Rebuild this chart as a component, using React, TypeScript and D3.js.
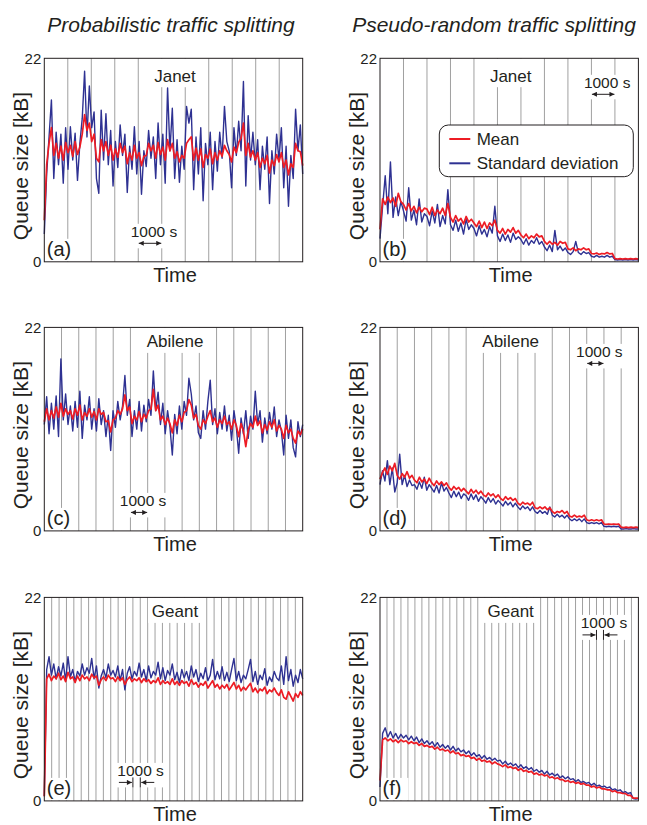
import React from 'react';
import * as d3 from 'd3';

// column headings, network names, panel letters, legend entries
const columnTitles = ['Probabilistic traffic splitting', 'Pseudo-random traffic splitting'];
const networkNames = ['Janet', 'Abilene', 'Geant'];
const panelLetters = ['(a)', '(b)', '(c)', '(d)', '(e)', '(f)'];
const seriesNames = ['Mean', 'Standard deviation'];
const yTicks = [0, 22];
const yMax = 22;
const markerText = '1000 s';
// number of 1000 s slots drawn as vertical lines in each panel, and the slot carrying the marker
const timeSlots = [11, 11, 15, 15, 35, 37];
const markerSlot = [4, 9, 5, 12, 12, 31];

// (a) Janet, probabilistic
const janetProbMean = [
  4.5, 10.5, 12.8, 14.5, 11.5, 12.8, 11.2, 12.5, 11.0, 12.9,
  11.8, 12.6, 11.4, 13.0, 11.6, 12.4, 13.8, 15.9, 14.2, 15.0,
  13.0, 13.8, 11.2, 10.8, 13.2, 12.0, 13.0, 11.5, 12.6, 11.0,
  12.2, 11.3, 12.8, 11.8, 12.5, 10.6, 11.8, 11.0, 12.6, 11.2,
  11.8, 10.4, 11.4, 11.5, 12.8, 12.0, 12.6, 11.2, 12.9, 11.6,
  12.4, 11.0, 13.2, 12.0, 12.8, 11.2, 11.9, 10.8, 11.5, 11.2,
  12.8, 13.2, 13.5, 11.0, 12.3, 11.0, 12.2, 10.2, 11.6, 11.2,
  12.2, 10.6, 11.8, 11.0, 12.0, 11.4, 12.6, 12.0, 11.6, 10.8,
  12.4, 11.8, 12.9, 13.4, 15.0, 11.5, 12.8, 11.3, 12.0, 11.0,
  11.8, 10.2, 11.2, 10.6, 11.5, 9.6, 11.0, 10.4, 11.6, 10.8,
  11.8, 10.2, 11.0, 9.4, 10.6, 10.2, 12.8, 12.0, 11.9, 10.4,
];
const janetProbStd = [
  3.0, 9.5, 13.5, 17.5, 9.0, 14.0, 10.5, 13.8, 8.5, 14.5,
  10.0, 14.6, 11.0, 13.9, 8.8, 12.8, 15.5, 20.6, 13.5, 19.0,
  14.5, 16.2, 9.0, 7.4, 16.4, 11.0, 16.0, 10.5, 14.2, 8.2,
  13.0, 10.2, 14.8, 11.5, 13.8, 7.5, 12.5, 10.0, 14.6, 9.5,
  13.0, 7.3, 12.0, 10.3, 14.2, 11.2, 13.5, 9.0, 15.0, 10.5,
  13.8, 8.5, 18.8, 12.0, 16.6, 9.0, 13.2, 8.6, 12.5, 10.0,
  16.8, 15.0, 16.5, 7.8, 13.5, 9.5, 14.5, 6.6, 12.8, 10.5,
  14.0, 7.8, 13.0, 9.8, 14.0, 11.2, 16.8, 13.0, 12.0, 8.0,
  14.5, 11.5, 15.2, 12.0, 19.5, 8.2, 15.8, 11.0, 14.0, 10.5,
  13.2, 7.8, 12.5, 10.0, 13.5, 6.3, 12.0, 9.5, 13.8, 11.0,
  14.5, 8.0, 12.5, 6.0, 11.5, 9.0, 16.5, 12.0, 14.8, 9.5,
];

// (b) Janet, pseudo-random
const janetPseudoMean = [
  3.5, 6.8, 6.2, 7.0, 6.4, 6.9, 6.0, 7.4, 6.5,
  6.2, 5.6, 6.3, 5.5, 6.0, 5.3, 5.9, 5.4, 5.8,
  5.7, 5.1, 5.9, 5.0, 5.6, 5.2, 5.8, 5.0, 6.3,
  4.8, 4.3, 5.0, 4.4, 4.7, 4.1, 4.9, 4.3, 4.6,
  4.2, 3.8, 4.4, 3.7, 4.3, 3.6, 4.2, 3.9, 4.5,
  3.4, 3.1, 3.6, 3.0, 3.5, 3.2, 3.7, 3.1, 3.4,
  2.9, 2.6, 3.0, 2.5, 2.8, 2.6, 3.0, 2.7, 2.8,
  2.2, 1.9, 2.2, 1.9, 2.1, 1.8, 2.2, 2.0, 2.1,
  1.4, 1.3, 1.5, 1.2, 1.4, 1.3, 1.5, 1.3, 1.4,
  0.9, 0.85, 0.95, 0.8, 0.9, 0.85, 1.0, 0.85, 0.9,
  0.35, 0.3, 0.35, 0.3, 0.35, 0.3, 0.35, 0.3, 0.35, 0.3,
];
const janetPseudoStd = [
  2.5, 6.0, 9.3, 5.2, 10.8, 4.8, 7.0, 5.0, 6.5,
  5.5, 4.4, 8.0, 4.5, 5.6, 4.0, 6.8, 4.3, 5.2,
  4.9, 3.9, 5.5, 4.2, 6.2, 3.8, 5.0, 4.1, 7.8,
  4.0, 3.4, 4.5, 3.3, 4.2, 3.0, 4.6, 3.5, 4.0,
  3.6, 2.8, 3.9, 3.0, 3.5, 2.7, 3.8, 3.1, 6.0,
  2.8, 2.2, 3.0, 2.3, 2.9, 2.1, 3.1, 2.4, 2.7,
  2.4, 1.9, 2.5, 1.8, 2.3, 2.0, 2.6, 1.9, 2.2,
  1.6, 1.2, 1.8, 1.1, 3.4, 1.3, 1.7, 1.2, 1.5,
  1.0, 0.8, 1.1, 2.2, 1.0, 0.8, 1.1, 0.9, 1.0,
  0.6, 0.5, 0.7, 0.5, 0.6, 0.5, 0.7, 0.5, 0.6,
  0.25, 0.2, 0.25, 0.2, 0.25, 0.2, 0.25, 0.2, 0.25, 0.2,
];

// (c) Abilene, probabilistic
const abileneProbMean = [
  11.8, 13.2, 12.0, 13.0, 12.2, 13.4, 12.3, 13.8, 12.4, 13.2,
  12.6, 13.0, 12.1, 13.2, 12.5, 13.6, 12.0, 12.8, 12.4, 13.2,
  12.3, 12.9, 12.0, 13.2, 12.6, 12.8, 11.8, 11.9, 10.7, 12.0,
  12.2, 13.0, 12.6, 13.2, 14.7, 13.0, 13.4, 11.6, 12.4, 12.0,
  12.9, 11.8, 12.6, 12.2, 13.0, 13.2, 15.3, 13.0, 13.6, 12.0,
  12.4, 11.5, 12.2, 11.6, 10.6, 12.0, 11.4, 12.5, 11.8, 12.8,
  13.0, 14.2, 13.6, 12.2, 12.6, 11.4, 11.0, 12.0, 11.6, 12.4,
  13.0, 11.8, 12.2, 11.2, 12.0, 11.6, 12.4, 11.5, 11.8, 11.0,
  12.0, 11.4, 10.2, 11.6, 10.8, 9.1, 10.9, 11.6, 11.2, 12.4,
  11.4, 11.9, 10.6, 11.5, 10.9, 11.8, 11.2, 12.0, 10.8, 11.4,
  11.0, 10.0, 11.4, 10.6, 11.0, 10.0, 9.5, 10.8, 10.4, 11.0,
];
const abileneProbStd = [
  11.5, 14.5, 10.5, 13.8, 11.0, 14.6, 10.2, 18.6, 12.0, 14.8,
  11.5, 13.5, 10.8, 14.0, 11.2, 15.1, 10.0, 13.6, 12.0, 14.5,
  11.0, 13.2, 10.8, 14.3, 11.5, 13.0, 10.2, 12.5, 8.7, 13.0,
  11.2, 14.0, 12.0, 13.5, 16.8, 12.5, 14.2, 10.2, 13.0, 11.0,
  14.0, 10.8, 13.6, 11.8, 14.2, 12.5, 17.3, 13.0, 15.0, 11.5,
  13.8, 10.5, 13.0, 11.2, 8.2, 12.6, 10.5, 13.5, 11.0, 14.0,
  12.5, 16.5, 14.8, 12.0, 13.5, 10.6, 10.0, 13.0, 11.0, 14.0,
  16.3, 11.5, 13.2, 10.5, 12.8, 11.0, 13.5, 10.8, 12.5, 9.8,
  13.0, 11.2, 8.4, 12.2, 10.5, 13.0, 10.0, 12.4, 11.0, 15.1,
  11.5, 13.0, 9.6, 12.2, 10.5, 12.8, 11.0, 13.4, 10.2, 12.0,
  10.8, 8.2, 12.5, 10.0, 12.0, 9.0, 8.0, 11.8, 10.2, 11.5,
];

// (d) Abilene, pseudo-random
const abilenePseudoMean = [
  5.6, 6.3, 6.8, 6.1, 7.0, 6.5, 7.3,
  6.0, 5.6, 6.2, 5.8, 6.4, 5.7, 6.0,
  5.5, 5.2, 5.8, 5.3, 5.6, 5.1, 5.7,
  5.2, 4.9, 5.4, 5.0, 5.3, 4.9, 5.2,
  4.7, 4.4, 4.8, 4.5, 4.7, 4.3, 4.6,
  4.3, 4.0, 4.5, 4.1, 4.4, 4.0, 4.3,
  3.9, 3.7, 4.1, 3.8, 4.0, 3.6, 3.9,
  3.5, 3.3, 3.7, 3.4, 3.6, 3.3, 3.5,
  3.0, 2.8, 3.1, 2.9, 3.0, 2.8, 3.1,
  2.5, 2.4, 2.6, 2.4, 2.6, 2.3, 2.5,
  2.1, 1.9, 2.1, 2.0, 2.2, 1.9, 2.1,
  1.6, 1.5, 1.7, 1.5, 1.6, 1.5, 1.7,
  1.2, 1.1, 1.2, 1.1, 1.2, 1.1, 1.2,
  0.75, 0.7, 0.75, 0.7, 0.75, 0.7, 0.75,
  0.4, 0.35, 0.4, 0.35, 0.4, 0.35, 0.4, 0.35,
];
const abilenePseudoStd = [
  5.0, 6.5, 5.4, 7.6, 5.0, 6.8, 4.2,
  5.2, 8.3, 5.0, 6.0, 4.8, 5.5, 4.9,
  5.0, 4.5, 5.3, 4.6, 5.8, 4.4, 5.0,
  4.6, 4.2, 4.9, 4.1, 5.2, 4.3, 4.7,
  4.1, 3.6, 4.3, 3.7, 4.2, 3.5, 4.0,
  3.8, 3.3, 4.0, 3.4, 3.9, 3.2, 3.7,
  3.4, 3.0, 3.6, 3.1, 3.5, 2.9, 3.3,
  3.0, 2.7, 3.2, 2.8, 3.1, 2.6, 3.0,
  2.6, 2.3, 2.7, 2.4, 2.6, 2.2, 2.6,
  2.1, 1.9, 2.2, 1.9, 2.1, 1.8, 2.6,
  1.7, 1.5, 1.8, 1.5, 1.7, 1.4, 1.7,
  1.3, 1.1, 1.3, 1.1, 1.3, 1.0, 1.3,
  0.9, 0.8, 0.9, 0.8, 0.9, 0.75, 0.9,
  0.5, 0.45, 0.5, 0.45, 0.5, 0.45, 0.5,
  0.2, 0.2, 0.25, 0.2, 0.2, 0.25, 0.2, 0.2,
];

// (e) Geant, probabilistic
const geantProbMean = [
  0.5, 13.2, 13.7, 13.0, 13.5, 13.2, 13.8, 13.1, 13.5, 12.9,
  13.9, 13.2, 13.4, 12.8, 13.5, 13.0, 13.6, 13.2, 13.4, 13.0,
  13.7, 13.3, 13.5, 12.5, 13.1, 13.4, 13.0, 13.6, 13.2, 13.3,
  12.9, 13.4, 13.0, 13.3, 12.6, 13.1, 13.4, 12.9, 13.2, 13.0,
  13.3, 12.8, 13.2, 12.9, 13.1, 12.7, 13.0, 12.8, 13.3, 12.6,
  13.0, 12.7, 12.9, 12.6, 13.2, 12.6, 12.9, 12.5, 13.0, 12.7,
  12.9, 12.4, 13.1, 12.6, 12.8, 12.3, 12.7, 12.5, 12.9, 12.2,
  12.6, 13.0, 12.3, 12.6, 12.1, 12.5, 12.2, 12.6, 12.0, 12.4,
  12.8, 12.1, 12.5, 11.9, 12.3, 12.0, 12.4, 12.7, 11.8, 12.2,
  11.7, 12.1, 11.9, 12.3, 11.6, 12.0, 11.8, 12.2, 11.7, 11.4,
  12.0, 11.2, 11.0, 11.8, 11.3, 10.8, 11.6, 11.2, 11.8, 11.4,
];
const geantProbStd = [
  0.5, 14.2, 15.6, 13.6, 14.8, 13.2, 14.5, 13.5, 14.9, 13.0,
  15.6, 13.4, 14.2, 12.9, 14.0, 13.5, 14.8, 13.6, 14.4, 13.8,
  15.4, 13.2, 14.6, 12.2, 13.5, 14.2, 13.3, 14.8, 13.6, 14.1,
  13.4, 14.6, 13.0, 14.2, 12.0, 13.8, 14.5, 13.2, 14.0, 13.5,
  14.9, 13.4, 14.2, 13.0, 14.6, 13.3, 14.0, 13.6, 15.0, 13.2,
  14.4, 13.0, 14.1, 13.6, 14.8, 13.1, 13.9, 12.8, 14.2, 13.3,
  14.0, 13.0, 14.6, 13.4, 14.2, 12.9, 13.8, 13.2, 14.4, 13.0,
  13.6, 15.3, 13.1, 14.0, 13.2, 14.5, 13.0, 13.9, 12.9, 14.2,
  15.4, 13.0, 14.0, 12.8, 13.6, 13.2, 14.2, 15.3, 12.9, 14.0,
  12.6, 13.6, 13.1, 14.3, 12.5, 13.4, 12.9, 14.0, 13.3, 13.0,
  14.6, 12.6, 15.6, 13.0, 14.2, 12.4, 13.6, 12.8, 14.2, 13.2,
];

// (f) Geant, pseudo-random
const geantPseudoMean = [
  2.2, 6.6, 6.8, 6.5, 6.7, 6.4, 6.6, 6.3, 6.6, 6.4,
  6.5, 6.2, 6.4, 6.2, 6.3, 6.0, 6.2, 5.9, 6.0, 5.8,
  5.9, 5.6, 5.8, 5.5, 5.6, 5.4, 5.5, 5.2, 5.4, 5.1,
  5.2, 4.9, 5.0, 4.8, 4.9, 4.6, 4.7, 4.4, 4.6, 4.3,
  4.4, 4.2, 4.3, 4.0, 4.2, 4.0, 3.9, 3.7, 3.9, 3.6,
  3.7, 3.5, 3.6, 3.3, 3.5, 3.2, 3.3, 3.1, 3.2, 2.9,
  3.0, 2.8, 2.9, 2.7, 2.8, 2.5, 2.6, 2.4, 2.5, 2.3,
  2.3, 2.1, 2.2, 2.0, 2.1, 1.9, 2.0, 1.8, 1.9, 1.7,
  1.7, 1.5, 1.6, 1.4, 1.5, 1.3, 1.3, 1.2, 1.2, 1.0,
  1.1, 0.9, 0.9, 0.8, 0.8, 0.6, 0.6, 0.3, 0.3, 0.3,
];
const geantPseudoStd = [
  1.5, 7.3, 7.9, 6.9, 7.5, 6.8, 7.3, 6.7, 7.2, 6.8,
  7.1, 6.6, 7.0, 6.5, 6.9, 6.3, 6.7, 6.2, 6.5, 6.1,
  6.4, 5.9, 6.3, 5.8, 6.1, 5.7, 6.0, 5.5, 5.9, 5.4,
  5.7, 5.3, 5.5, 5.1, 5.4, 4.9, 5.2, 4.8, 5.0, 4.6,
  4.9, 4.5, 4.7, 4.4, 4.6, 4.3, 4.4, 4.0, 4.3, 3.9,
  4.1, 3.8, 4.0, 3.6, 3.9, 3.5, 3.7, 3.4, 3.6, 3.2,
  3.4, 3.1, 3.3, 2.9, 3.2, 2.8, 3.0, 2.7, 2.9, 2.5,
  2.7, 2.4, 2.6, 2.3, 2.4, 2.1, 2.3, 2.0, 2.1, 1.9,
  2.0, 1.7, 1.9, 1.6, 1.7, 1.5, 1.6, 1.4, 1.5, 1.2,
  1.3, 1.1, 1.2, 0.9, 1.0, 0.8, 0.9, 0.25, 0.2, 0.25,
];

const FONT = '"Liberation Sans", Arial, Helvetica, sans-serif';
const RED = '#ed1c24';
const BLUE = '#2e3192';
const GRID = '#a0a0a0';
const INK = '#231f20';

const PLOT_W = 258.4;
const PLOT_H = 203.5;
const COL_X = [44.3, 380];
const ROW_Y = [58.3, 327.4, 597.4];

const panels = [
  {col: 0, row: 0, mean: janetProbMean, std: janetProbStd},
  {col: 1, row: 0, mean: janetPseudoMean, std: janetPseudoStd},
  {col: 0, row: 1, mean: abileneProbMean, std: abileneProbStd},
  {col: 1, row: 1, mean: abilenePseudoMean, std: abilenePseudoStd},
  {col: 0, row: 2, mean: geantProbMean, std: geantProbStd},
  {col: 1, row: 2, mean: geantPseudoMean, std: geantPseudoStd},
];

function Panel({idx}: {idx: number}) {
  const p = panels[idx];
  const left = COL_X[p.col];
  const top = ROW_Y[p.row];
  const bottom = top + PLOT_H;
  const right = left + PLOT_W;

  const y = d3.scaleLinear().domain([0, yMax]).range([bottom, top]);
  const grid = d3.scaleLinear().domain([0, timeSlots[idx]]).range([left, right]);
  const path = (vals: number[]) => {
    const x = d3.scaleLinear().domain([0, vals.length - 1]).range([left, right]);
    return d3.line<number>().x((d, i) => x(i)).y(d => y(d))(vals) || '';
  };

  // 1000 s marker: pseudo-random panels have it at the top, probabilistic at the bottom
  const onTop = p.col === 1;
  const inward = p.row === 2;
  const m = markerSlot[idx];
  const x0 = grid(m);
  const x1 = grid(m + 1);
  const mx = (x0 + x1) / 2 + 4;
  const textY = onTop ? top + 29.5 + (inward ? 1 : 0) : bottom - 25;
  const arrowY = onTop ? top + 36 + (inward ? 1.5 : 0) : bottom - 18.5;
  const boxL = Math.min(mx - 25, inward ? x0 - 16 : x0) - 2;
  const boxR = Math.max(mx + 25, inward ? x1 + 16 : x1) + 2;

  const name = networkNames[p.row];
  const nameX = left + PLOT_W / 2 + 1.5;
  const nameY = top + (p.row === 0 ? 23.4 : 20);
  const nameW = name.length * 9.6;

  return (
    <g>
      {/* vertical 1000 s lines */}
      {d3.range(1, timeSlots[idx]).map(k => (
        <line key={k} x1={grid(k)} x2={grid(k)} y1={top} y2={bottom} stroke={GRID} strokeWidth={1}/>
      ))}

      {/* white boxes behind labels */}
      <rect x={nameX - nameW / 2 - 3} y={top + 0.5} width={nameW + 6} height={nameY - top + 5} fill="#fff"/>
      <rect x={boxL} y={textY - 13} width={boxR - boxL} height={arrowY - textY + 18} fill="#fff"/>
      <rect x={left + 0.5} y={bottom - 23} width={28} height={22.5} fill="#fff"/>

      <path d={path(p.std)} fill="none" stroke={BLUE} strokeWidth={1.4} strokeLinejoin="round"/>
      <path d={path(p.mean)} fill="none" stroke={RED} strokeWidth={1.7} strokeLinejoin="round"/>

      <rect x={left} y={top} width={PLOT_W} height={PLOT_H} fill="none" stroke={INK} strokeWidth={1}/>

      {yTicks.map(t => (
        <text key={t} x={left - 3} y={y(t)} dy="0.36em" textAnchor="end" fontSize={15}>{t}</text>
      ))}
      <text transform={`translate(${left - 16},${top + PLOT_H / 2 + 6}) rotate(-90)`} textAnchor="middle" fontSize={21}>
        Queue size [kB]
      </text>
      <text x={left + PLOT_W / 2 + 1.5} y={bottom + 20.5} textAnchor="middle" fontSize={20}>Time</text>
      <text x={nameX} y={nameY} textAnchor="middle" fontSize={17}>{name}</text>
      <text x={left + 2.5} y={bottom - 5.5} fontSize={20}>{panelLetters[idx]}</text>

      <text x={mx} y={textY} textAnchor="middle" fontSize={15.5}>{markerText}</text>
      {inward ? (
        <g stroke={INK} strokeWidth={1}>
          <line x1={x0 - 14} x2={x0 - 1} y1={arrowY} y2={arrowY} markerEnd="url(#ah)"/>
          <line x1={x1 + 14} x2={x1 + 1} y1={arrowY} y2={arrowY} markerEnd="url(#ah)"/>
          <line x1={x0} x2={x0} y1={arrowY - 5} y2={arrowY + 5}/>
          <line x1={x1} x2={x1} y1={arrowY - 5} y2={arrowY + 5}/>
        </g>
      ) : (
        <line x1={x0 + 0.5} x2={x1 - 0.5} y1={arrowY} y2={arrowY} stroke={INK} strokeWidth={1}
              markerStart="url(#ah)" markerEnd="url(#ah)"/>
      )}
    </g>
  );
}

function Legend() {
  const lx = 439.3;
  const ly = 125;
  const colors = [RED, BLUE];
  return (
    <g>
      <rect x={lx} y={ly} width={194} height={51.7} rx={9} fill="#fff" stroke={INK} strokeWidth={1}/>
      {seriesNames.map((s, i) => (
        <g key={s}>
          <line x1={lx + 10} x2={lx + 31} y1={ly + 14 + i * 24.3} y2={ly + 14 + i * 24.3}
                stroke={colors[i]} strokeWidth={2}/>
          <text x={lx + 37.4} y={ly + 20 + i * 24.3} fontSize={17}>{s}</text>
        </g>
      ))}
    </g>
  );
}

export default function App() {
  return (
    <svg width={647} height={825} style={{position: 'absolute', left: 0, top: 0, background: '#fff'}}
         fontFamily={FONT} fill={INK}>
      <defs>
        <marker id="ah" viewBox="0 0 10 10" refX={10} refY={5} markerWidth={6} markerHeight={5}
                markerUnits="userSpaceOnUse" orient="auto-start-reverse">
          <path d="M0,0L10,5L0,10z" fill={INK}/>
        </marker>
      </defs>
      <rect width={647} height={825} fill="#fff"/>
      <text x={171} y={32} textAnchor="middle" fontSize={21} fontStyle="italic">{columnTitles[0]}</text>
      <text x={494} y={32} textAnchor="middle" fontSize={21} fontStyle="italic">{columnTitles[1]}</text>
      {panels.map((_, i) => <Panel key={i} idx={i}/>)}
      <Legend/>
    </svg>
  );
}
